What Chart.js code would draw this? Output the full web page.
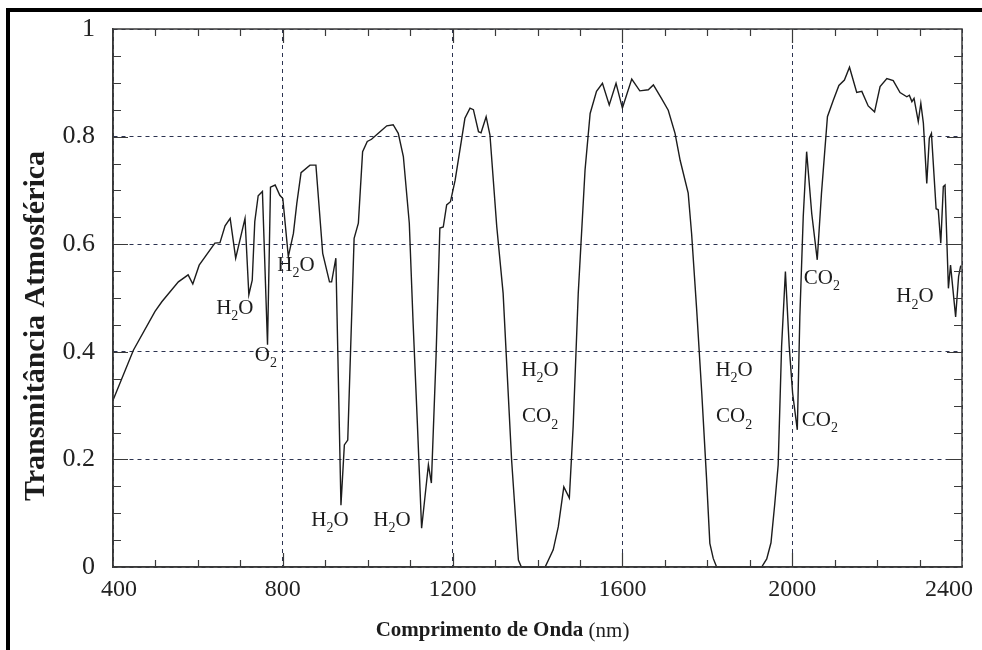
<!DOCTYPE html>
<html>
<head>
<meta charset="utf-8">
<script src="https://cdn.jsdelivr.net/npm/chart.js@4.4.0/dist/chart.umd.min.js"></script>
<style>
  html, body { margin: 0; padding: 0; background: #fff; }
  #wrap { width: 982px; height: 650px; position: relative; }
</style>
</head>
<body>
<div id="wrap"><canvas id="spectrum"></canvas></div>
<script>
(function() {
  'use strict';

  // wavelength (nm) and atmospheric transmittance
  var wavelength = [
    400, 448, 499, 515, 554, 577, 588, 603, 640, 652, 664, 676, 689, 711, 720, 728,
    734, 742, 752, 764, 771, 782, 793, 800, 813, 825, 833, 843, 864, 878, 894, 910,
    915, 925, 937, 945, 953, 968, 978, 988, 999, 1009, 1029, 1045, 1060, 1072, 1084, 1098,
    1107, 1117, 1127, 1143, 1150, 1161, 1170, 1178, 1186, 1195, 1206, 1221, 1229, 1241, 1249, 1261,
    1267, 1279, 1288, 1304, 1319, 1339, 1355, 1362, 1418, 1437, 1449, 1462, 1475, 1484, 1496, 1512,
    1524, 1539, 1553, 1569, 1585, 1600, 1622, 1641, 1661, 1673, 1692, 1708, 1724, 1736, 1755, 1763,
    1775, 1787, 1798, 1806, 1814, 1822, 1928, 1940, 1950, 1959, 1967, 1975, 1984, 1993, 2001, 2012,
    2018, 2026, 2034, 2046, 2059, 2069, 2083, 2097, 2110, 2123, 2135, 2152, 2164, 2179, 2194, 2207,
    2223, 2238, 2254, 2270, 2276, 2282, 2287, 2297, 2303, 2309, 2317, 2323, 2328, 2339, 2344, 2350,
    2356, 2360, 2368, 2373, 2385, 2392, 2397
  ];
  var transmittance = [
    0.310, 0.403, 0.475, 0.493, 0.530, 0.543, 0.526, 0.561, 0.602, 0.603, 0.634, 0.648, 0.574, 0.648, 0.506, 0.533,
    0.642, 0.690, 0.698, 0.413, 0.706, 0.710, 0.691, 0.685, 0.577, 0.620, 0.676, 0.733, 0.747, 0.747, 0.583, 0.530,
    0.530, 0.574, 0.115, 0.227, 0.236, 0.611, 0.639, 0.772, 0.791, 0.795, 0.809, 0.820, 0.822, 0.806, 0.763, 0.639,
    0.453, 0.267, 0.072, 0.190, 0.156, 0.391, 0.630, 0.632, 0.673, 0.679, 0.719, 0.794, 0.834, 0.853, 0.850, 0.809,
    0.807, 0.837, 0.803, 0.633, 0.509, 0.199, 0.013, 0.000, 0.000, 0.032, 0.075, 0.149, 0.128, 0.261, 0.509, 0.738,
    0.843, 0.884, 0.899, 0.859, 0.899, 0.853, 0.907, 0.885, 0.887, 0.896, 0.871, 0.849, 0.806, 0.756, 0.695, 0.620,
    0.478, 0.323, 0.168, 0.044, 0.016, 0.000, 0.000, 0.015, 0.045, 0.118, 0.190, 0.410, 0.549, 0.410, 0.323, 0.255,
    0.465, 0.651, 0.772, 0.657, 0.571, 0.695, 0.837, 0.868, 0.895, 0.905, 0.929, 0.882, 0.884, 0.857, 0.846, 0.893,
    0.908, 0.904, 0.882, 0.874, 0.877, 0.865, 0.871, 0.828, 0.862, 0.825, 0.713, 0.797, 0.806, 0.666, 0.664, 0.602,
    0.707, 0.710, 0.518, 0.561, 0.465, 0.540, 0.560
  ];

  // absorber labels ("_" marks the subscript digit), placed in data units
  var absorberText = ['H_2O', 'O_2', 'H_2O', 'H_2O', 'H_2O', 'H_2O', 'CO_2', 'H_2O', 'CO_2', 'CO_2', 'CO_2', 'H_2O'];
  var absorberX    = [687,    760,   831,    911,    1057,   1406,   1406,   1863,   1863,   2070,   2065,   2289];
  var absorberY    = [0.481,  0.394, 0.561,  0.087,  0.087,  0.366,  0.279,  0.366,  0.279,  0.537,  0.273,  0.502];

  var X_TITLE_BOLD = 'Comprimento de Onda';
  var X_TITLE_UNIT = ' (nm)';
  var Y_TITLE = 'Transmitância Atmosférica';

  var SERIF = "'Liberation Serif', 'Times New Roman', serif";
  var INK = '#1c1c1c';
  var GRID = '#2c3350';
  var AXIS = '#3a3a3a';

  var points = wavelength.map(function(w, i) { return { x: w, y: transmittance[i] }; });

  function drawLabel(ctx, text, cx, cy) {
    var parts = text.split('_');
    var pre = parts[0];
    var sub = parts.length > 1 ? parts[1].charAt(0) : '';
    var post = parts.length > 1 ? parts[1].slice(1) : '';
    var mainFont = '21px ' + SERIF, subFont = '14px ' + SERIF;
    ctx.font = mainFont;
    var w1 = ctx.measureText(pre).width, w3 = ctx.measureText(post).width;
    ctx.font = subFont;
    var w2 = ctx.measureText(sub).width;
    var x = cx - (w1 + w2 + w3) / 2;
    ctx.textAlign = 'left';
    ctx.textBaseline = 'middle';
    ctx.font = mainFont;
    ctx.fillText(pre, x, cy);
    ctx.font = subFont;
    ctx.fillText(sub, x + w1, cy + 8);
    ctx.font = mainFont;
    ctx.fillText(post, x + w1 + w2, cy);
  }

  var decor = {
    id: 'decor',
    beforeDraw: function(chart) {
      var ctx = chart.ctx;
      ctx.save();
      ctx.fillStyle = '#fff';
      ctx.fillRect(0, 0, chart.width, chart.height);
      ctx.restore();
    },
    afterDraw: function(chart) {
      var ctx = chart.ctx, a = chart.chartArea;
      var xs = chart.scales.x, ys = chart.scales.y;
      var v, p, len;
      ctx.save();

      // plot box
      ctx.strokeStyle = AXIS;
      ctx.lineWidth = 1.5;
      ctx.strokeRect(a.left, a.top, a.right - a.left, a.bottom - a.top);

      // inward ticks on all four sides (longer at the gridlines)
      ctx.lineWidth = 1.2;
      ctx.beginPath();
      for (v = 500; v < 2400; v += 100) {
        len = v % 400 === 0 ? 14 : 7;
        p = Math.round(xs.getPixelForValue(v)) + 0.5;
        ctx.moveTo(p, a.bottom); ctx.lineTo(p, a.bottom - len);
        ctx.moveTo(p, a.top); ctx.lineTo(p, a.top + len);
      }
      for (v = 1; v < 20; v++) {
        len = v % 4 === 0 ? 15 : 8;
        p = Math.round(ys.getPixelForValue(v * 0.05)) + 0.5;
        ctx.moveTo(a.left, p); ctx.lineTo(a.left + len, p);
        ctx.moveTo(a.right, p); ctx.lineTo(a.right - len, p);
      }
      ctx.stroke();

      // x tick labels, kept inside the page at both ends
      ctx.fillStyle = '#222';
      ctx.font = '24px ' + SERIF;
      ctx.textAlign = 'center';
      ctx.textBaseline = 'middle';
      xs.ticks.forEach(function(t) {
        var s = String(t.value);
        var w = ctx.measureText(s).width;
        var px = xs.getPixelForValue(t.value);
        px = Math.max(px, a.left - 12 + w / 2);
        px = Math.min(px, chart.width - 9 - w / 2);
        ctx.fillText(s, px, a.bottom + 23);
      });

      // absorber labels
      ctx.fillStyle = INK;
      absorberText.forEach(function(t, i) {
        drawLabel(ctx, t, xs.getPixelForValue(absorberX[i]), ys.getPixelForValue(absorberY[i]));
      });

      // x title: bold words + normal unit
      ctx.textBaseline = 'middle';
      ctx.textAlign = 'left';
      ctx.font = 'bold 21px ' + SERIF;
      var wb = ctx.measureText(X_TITLE_BOLD).width;
      ctx.font = '21px ' + SERIF;
      var wu = ctx.measureText(X_TITLE_UNIT).width;
      var tx = (a.left + a.right) / 2 - 35 - (wb + wu) / 2;
      var ty = a.bottom + 64;
      ctx.font = 'bold 21px ' + SERIF;
      ctx.fillText(X_TITLE_BOLD, tx, ty);
      ctx.font = '21px ' + SERIF;
      ctx.fillText(X_TITLE_UNIT, tx + wb, ty);

      // y title
      ctx.save();
      ctx.translate(a.left - 77, (a.top + a.bottom) / 2 + 28);
      ctx.rotate(-Math.PI / 2);
      ctx.textAlign = 'center';
      ctx.font = 'bold 30px ' + SERIF;
      ctx.fillText(Y_TITLE, 0, 0);
      ctx.restore();

      // heavy outer frame (top and left)
      ctx.fillStyle = '#000';
      ctx.fillRect(6, 8, chart.width - 6, 4);
      ctx.fillRect(6, 8, 4, chart.height - 8);

      ctx.restore();
    }
  };

  new Chart(document.getElementById('spectrum'), {
    type: 'line',
    data: {
      datasets: [{
        data: points,
        borderColor: INK,
        borderWidth: 1.4,
        pointRadius: 0,
        tension: 0,
        fill: false,
        clip: false
      }]
    },
    options: {
      responsive: true,
      maintainAspectRatio: false,
      animation: false,
      layout: { padding: { top: 29, right: 20, bottom: 0, left: 0 } },
      plugins: {
        legend: { display: false },
        tooltip: { enabled: false }
      },
      scales: {
        x: {
          type: 'linear',
          min: 400,
          max: 2400,
          afterFit: function(s) { s.height = 83; s.paddingLeft = 0; s.paddingRight = 0; },
          ticks: { stepSize: 400, display: false },
          grid: { color: GRID, lineWidth: 1, drawTicks: false },
          border: { color: AXIS, width: 1.5, dash: [4, 4] }
        },
        y: {
          min: 0,
          max: 1,
          afterFit: function(s) { s.width = 113; s.paddingTop = 0; s.paddingBottom = 0; },
          ticks: {
            stepSize: 0.2,
            color: '#222',
            padding: 18,
            font: { family: SERIF, size: 26 },
            callback: function(v) { return String(parseFloat(v.toFixed(1))); }
          },
          grid: { color: GRID, lineWidth: 1, drawTicks: false },
          border: { color: AXIS, width: 1.5, dash: [4, 4] }
        }
      }
    },
    plugins: [decor]
  });
})();
</script>
</body>
</html>
